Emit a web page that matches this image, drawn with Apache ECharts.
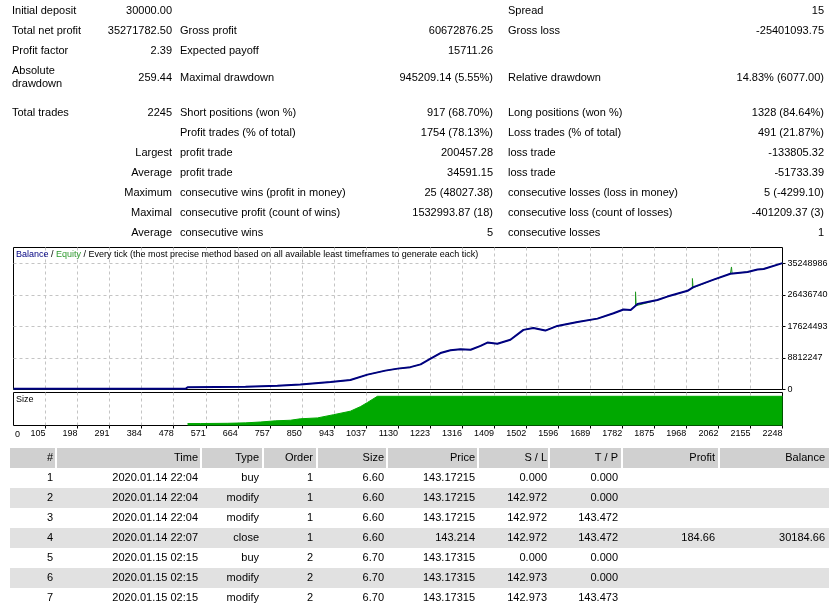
<!DOCTYPE html>
<html>
<head>
<meta charset="utf-8">
<title>Strategy Tester Report</title>
<script src="https://cdn.jsdelivr.net/npm/echarts@6/dist/echarts.min.js"></script>
<style>
html, body { margin: 0; padding: 0; background: #fff; }
#report { width: 829px; height: 603px; }
</style>
</head>
<body>
<div id="report"></div>
<script>
var eChart = echarts.init(document.getElementById('report'));

// data
const statRows = [
  ['Initial deposit', '30000.00', '', '', 'Spread', '15'],
  ['Total net profit', '35271782.50', 'Gross profit', '60672876.25', 'Gross loss', '-25401093.75'],
  ['Profit factor', '2.39', 'Expected payoff', '15711.26', '', ''],
  ['Absolute\ndrawdown', '259.44', 'Maximal drawdown', '945209.14 (5.55%)', 'Relative drawdown', '14.83% (6077.00)'],
  ['Total trades', '2245', 'Short positions (won %)', '917 (68.70%)', 'Long positions (won %)', '1328 (84.64%)'],
  ['', '', 'Profit trades (% of total)', '1754 (78.13%)', 'Loss trades (% of total)', '491 (21.87%)'],
  ['', 'Largest', 'profit trade', '200457.28', 'loss trade', '-133805.32'],
  ['', 'Average', 'profit trade', '34591.15', 'loss trade', '-51733.39'],
  ['', 'Maximum', 'consecutive wins (profit in money)', '25 (48027.38)', 'consecutive losses (loss in money)', '5 (-4299.10)'],
  ['', 'Maximal', 'consecutive profit (count of wins)', '1532993.87 (18)', 'consecutive loss (count of losses)', '-401209.37 (3)'],
  ['', 'Average', 'consecutive wins', '5', 'consecutive losses', '1']
];

const tickLabels = ['0', '105', '198', '291', '384', '478', '571', '664', '757', '850', '943', '1037', '1130',
  '1223', '1316', '1409', '1502', '1596', '1689', '1782', '1875', '1968', '2062', '2155', '2248'];

const balanceTrade = [0, 502, 508, 677, 770, 837, 925, 983, 1033, 1085, 1121, 1158, 1188, 1217, 1246, 1275,
  1304, 1334, 1363, 1383, 1412, 1450, 1488, 1517, 1552, 1587, 1646, 1704, 1751, 1780, 1801, 1821, 1879,
  1908, 1967, 1984, 2043, 2092, 2142, 2171, 2189, 2244];
const balanceValue = [200000, 200000, 600000, 750000, 1030000, 1390000, 2080000, 2640000, 4160000, 5270000,
  5830000, 6240000, 7020000, 8600000, 10190000, 10960000, 11240000, 11100000, 12200000, 13100000, 12770000,
  13880000, 16650000, 17200000, 16460000, 17760000, 18870000, 19790000, 21290000, 22340000, 22200000,
  23870000, 24980000, 25950000, 27560000, 28590000, 30670000, 32330000, 32830000, 33500000, 33670000, 35301782];

// equity spikes: trade, low, high
const equitySpikes = [[1815, 23400000, 27280000], [1981, 28400000, 31000000], [2095, 32360000, 34220000]];

const sizeTrade = [508, 546, 624, 677, 721, 765, 808, 837, 887, 934, 983, 1013, 1033, 1062, 2244];
const sizeLots = [6.6, 6.7, 7.5, 9, 12, 16, 18, 23, 26, 37, 49, 65, 79, 100, 100];

const tableHeader = ['#', 'Time', 'Type', 'Order', 'Size', 'Price', 'S / L', 'T / P', 'Profit', 'Balance'];
const dealNo = ['1', '2', '3', '4', '5', '6', '7'];
const dealTime = ['2020.01.14 22:04', '2020.01.14 22:04', '2020.01.14 22:04', '2020.01.14 22:07',
  '2020.01.15 02:15', '2020.01.15 02:15', '2020.01.15 02:15'];
const dealType = ['buy', 'modify', 'modify', 'close', 'buy', 'modify', 'modify'];
const dealOrder = ['1', '1', '1', '1', '2', '2', '2'];
const dealSize = ['6.60', '6.60', '6.60', '6.60', '6.70', '6.70', '6.70'];
const dealPrice = ['143.17215', '143.17215', '143.17215', '143.214', '143.17315', '143.17315', '143.17315'];
const dealSL = ['0.000', '142.972', '142.972', '142.972', '0.000', '142.973', '142.973'];
const dealTP = ['0.000', '0.000', '143.472', '143.472', '0.000', '0.000', '143.473'];
const dealProfit = ['', '', '', '184.66', '', '', ''];
const dealBalance = ['', '', '', '30184.66', '', '', ''];

// layout
const FONT = '"Liberation Sans", Arial, sans-serif';
const statRowY = [11, 31, 51, 78, 113, 133, 153, 173, 193, 213, 233];
const statColX = [12, 172, 180, 493, 508, 824];
const statColAlign = ['left', 'right', 'left', 'right', 'left', 'right'];
const cellLeft = [10, 57, 202, 264, 318, 388, 479, 550, 623, 720];
const cellRight = [55, 200, 262, 316, 386, 477, 548, 621, 718, 829];
const textRight = [53, 198, 259, 313, 384, 475, 547, 618, 715, 825];

const X_STEP = 93.5, X_MAX = X_STEP * 24;
const Y_STEP = 8812246.5, Y_MAX = Y_STEP * 4.5;
const SIZE_MAX = 113;

var graphics = [];
function addText(s, x, y, align, size) {
  graphics.push({
    type: 'text', silent: true, z: 10,
    style: {
      text: s, x: x, y: y, align: align, textAlign: align,
      verticalAlign: 'middle', textVerticalAlign: 'middle',
      font: size + 'px ' + FONT, fill: '#000'
    }
  });
}
function addRect(x, y, w, h, color) {
  graphics.push({ type: 'rect', silent: true, z: 5, shape: { x: x, y: y, width: w, height: h }, style: { fill: color } });
}

// statistics block
statRows.forEach(function (row, r) {
  row.forEach(function (s, c) {
    if (!s) return;
    if (s.indexOf('\n') >= 0) {
      var parts = s.split('\n');
      addText(parts[0], statColX[c], statRowY[r] - 7, statColAlign[c], 11);
      addText(parts[1], statColX[c], statRowY[r] + 6, statColAlign[c], 11);
    } else {
      addText(s, statColX[c], statRowY[r], statColAlign[c], 11);
    }
  });
});

// deals table
var cols = [dealNo, dealTime, dealType, dealOrder, dealSize, dealPrice, dealSL, dealTP, dealProfit, dealBalance];
tableHeader.forEach(function (h, c) {
  addRect(cellLeft[c], 448, cellRight[c] - cellLeft[c], 20, '#d0d0d0');
  addText(h, textRight[c], 458, 'right', 11);
});
dealNo.forEach(function (n, r) {
  var y = 468 + r * 20;
  if (r % 2 === 1) addRect(10, y, 819, 20, '#e1e1e1');
  cols.forEach(function (col, c) {
    if (col[r]) addText(col[r], textRight[c], y + 10, 'right', 11);
  });
});
addText('0', 15, 435, 'left', 9);

// series data
var balanceData = balanceTrade.map(function (t, i) { return [t, balanceValue[i]]; });
var equityData = balanceData.slice();
equitySpikes.forEach(function (s) {
  equityData.push([s[0], s[1]], [s[0] + 0.1, s[2]], [s[0] + 2, s[1]]);
});
equityData.sort(function (a, b) { return a[0] - b[0]; });
var sizeData = sizeTrade.map(function (t, i) { return [t, sizeLots[i]]; });

var dash = { color: '#c4c4c4', width: 1, type: [3, 3] };
var axisText = { fontFamily: FONT, fontSize: 9, color: '#000' };

const options = {
  animation: false,
  backgroundColor: '#fff',
  title: [{
    text: '{b|Balance} / {e|Equity} / Every tick (the most precise method based on all available least timeframes to generate each tick)',
    left: 16, top: 250, padding: 0,
    textStyle: {
      fontFamily: FONT, fontSize: 9, fontWeight: 'normal', color: '#000',
      rich: {
        b: { color: '#000080', fontFamily: FONT, fontSize: 9 },
        e: { color: '#2e9a2e', fontFamily: FONT, fontSize: 9 }
      }
    }
  }, {
    text: 'Size', left: 16, top: 395, padding: 0,
    textStyle: { fontFamily: FONT, fontSize: 9, fontWeight: 'normal', color: '#000' }
  }],
  grid: [
    { left: 13.5, top: 247.5, width: 769, height: 142, show: true, borderColor: '#000', borderWidth: 1,
      backgroundColor: '#fff', containLabel: false, outerBoundsMode: 'none' },
    { left: 13.5, top: 392.5, width: 769, height: 33, show: true, borderColor: '#000', borderWidth: 1,
      backgroundColor: '#fff', containLabel: false, outerBoundsMode: 'none' }
  ],
  xAxis: [{
    type: 'value', gridIndex: 0, min: 0, max: X_MAX, interval: X_STEP,
    axisLine: { show: false, onZero: false }, axisTick: { show: false }, axisLabel: { show: false },
    splitLine: { show: true, showMinLine: false, showMaxLine: false, lineStyle: dash }
  }, {
    type: 'value', gridIndex: 1, min: 0, max: X_MAX, interval: X_STEP,
    axisLine: { show: false, onZero: false },
    axisTick: { show: true, length: 3, lineStyle: { color: '#000' } },
    axisLabel: Object.assign({
      align: 'right', showMinLabel: false, margin: 4,
      formatter: function (v) { return tickLabels[Math.round(v / X_STEP)]; }
    }, axisText),
    splitLine: { show: true, showMinLine: false, showMaxLine: false, lineStyle: dash }
  }],
  yAxis: [{
    type: 'value', gridIndex: 0, position: 'right', min: 0, max: Y_MAX, interval: Y_STEP,
    axisLine: { show: false, onZero: false },
    axisTick: { show: true, length: 3, lineStyle: { color: '#000' } },
    axisLabel: Object.assign({
      showMaxLabel: false, margin: 5,
      formatter: function (v) { return String(Math.round(v)); }
    }, axisText),
    splitLine: { show: true, showMinLine: false, showMaxLine: false, lineStyle: dash }
  }, {
    type: 'value', gridIndex: 1, min: 0, max: SIZE_MAX, show: false,
    axisLine: { onZero: false }, splitLine: { show: false }
  }],
  series: [{
    name: 'Equity', type: 'line', xAxisIndex: 0, yAxisIndex: 0, data: equityData,
    symbol: 'none', silent: true, z: 2,
    lineStyle: { color: '#1e961e', width: 1 }
  }, {
    name: 'Balance', type: 'line', xAxisIndex: 0, yAxisIndex: 0, data: balanceData,
    symbol: 'none', silent: true, z: 3,
    lineStyle: { color: '#000080', width: 2 }
  }, {
    name: 'Size', type: 'line', xAxisIndex: 1, yAxisIndex: 1, data: sizeData,
    symbol: 'none', silent: true, z: 2,
    lineStyle: { color: '#00a800', width: 1 },
    areaStyle: { color: '#00a800', opacity: 1 }
  }],
  graphic: graphics
};
eChart.setOption(options);
</script>
</body>
</html>
